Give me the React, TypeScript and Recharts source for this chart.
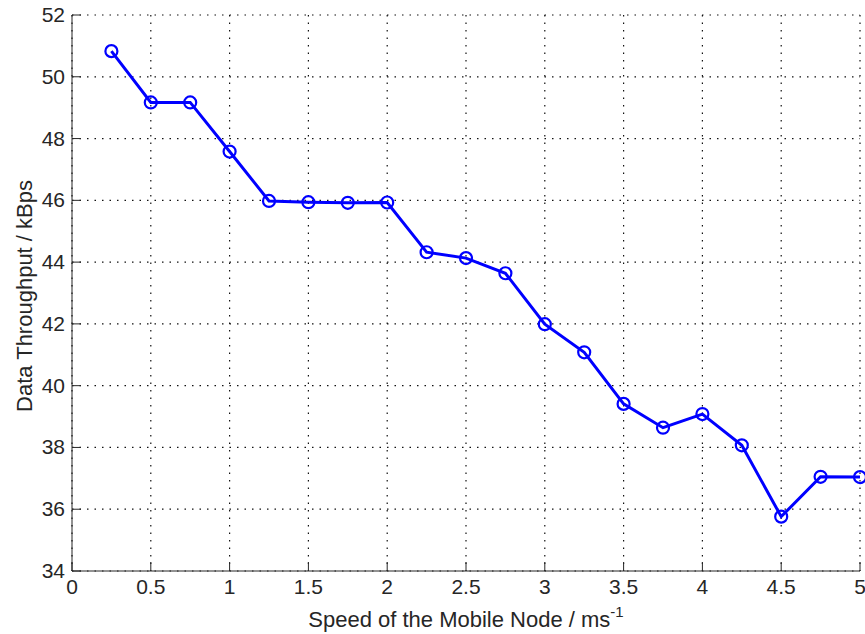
import React from "react";
import {
  LineChart,
  Line,
  XAxis,
  YAxis,
  CartesianGrid,
} from "recharts";

const speeds = [
  0.25, 0.5, 0.75, 1, 1.25, 1.5, 1.75, 2, 2.25, 2.5, 2.75, 3, 3.25, 3.5, 3.75,
  4, 4.25, 4.5, 4.75, 5,
];
const throughput = [
  50.83, 49.17, 49.17, 47.58, 45.98, 45.94, 45.92, 45.93, 44.32, 44.13, 43.64,
  41.99, 41.08, 39.41, 38.64, 39.08, 38.07, 35.76, 37.05, 37.04,
];
const xTicks = [0, 0.5, 1, 1.5, 2, 2.5, 3, 3.5, 4, 4.5, 5];
const yTicks = [34, 36, 38, 40, 42, 44, 46, 48, 50, 52];

const data = speeds.map((s, i) => ({ speed: s, value: throughput[i] }));

const FONT = "'Liberation Sans', Arial, Helvetica, sans-serif";
const INK = "#262626";
const BLUE = "#0000ff";
const TICK_LEN = 9;

function BottomTick({ x, y, payload }: any) {
  return (
    <g>
      <line x1={x} x2={x} y1={y} y2={y - TICK_LEN} stroke={INK} />
      <text
        x={x}
        y={y + 23}
        textAnchor="middle"
        fontSize={21}
        fontFamily={FONT}
        fill={INK}
      >
        {String(payload.value)}
      </text>
    </g>
  );
}

function TopTick({ x, y }: any) {
  return <line x1={x} x2={x} y1={y} y2={y + TICK_LEN} stroke={INK} />;
}

function LeftTick({ x, y, payload }: any) {
  return (
    <g>
      <line x1={x} x2={x + TICK_LEN} y1={y} y2={y} stroke={INK} />
      <text
        x={x - 7}
        y={y + 7}
        textAnchor="end"
        fontSize={21}
        fontFamily={FONT}
        fill={INK}
      >
        {String(payload.value)}
      </text>
    </g>
  );
}

function RightTick({ x, y }: any) {
  return <line x1={x} x2={x - TICK_LEN} y1={y} y2={y} stroke={INK} />;
}

function XTitle({ viewBox }: any) {
  const cx = viewBox.x + viewBox.width / 2;
  return (
    <text
      x={cx}
      y={viewBox.y + 56}
      textAnchor="middle"
      fontSize={22}
      fontFamily={FONT}
      fill={INK}
    >
      Speed of the Mobile Node / ms
      <tspan dy={-10} fontSize={15}>
        -1
      </tspan>
    </text>
  );
}

function YTitle({ viewBox }: any) {
  const cy = viewBox.y + viewBox.height / 2 + 3;
  const bx = 32;
  return (
    <text
      x={bx}
      y={cy}
      transform={`rotate(-90, ${bx}, ${cy})`}
      textAnchor="middle"
      fontSize={22}
      fontFamily={FONT}
      fill={INK}
    >
      Data Throughput / kBps
    </text>
  );
}

export default function App() {
  return (
    <div style={{ position: "absolute", left: 0, top: 0, background: "#fff" }}>
      <LineChart
        width={865}
        height={634}
        data={data}
        margin={{ top: 15, right: 5, left: 0, bottom: 0 }}
      >
        <CartesianGrid
          stroke="#111"
          strokeWidth={1.2}
          strokeDasharray="1.5 6"
          xAxisId="b"
          yAxisId="l"
        />
        <XAxis
          xAxisId="b"
          dataKey="speed"
          type="number"
          domain={[0, 5]}
          ticks={xTicks}
          interval={0}
          height={63}
          tickSize={0}
          tickMargin={0}
          tickLine={false}
          axisLine={{ stroke: INK }}
          tick={<BottomTick />}
          label={<XTitle />}
        />
        <XAxis
          xAxisId="t"
          orientation="top"
          dataKey="speed"
          type="number"
          domain={[0, 5]}
          ticks={xTicks}
          interval={0}
          height={0}
          tickSize={0}
          tickMargin={0}
          tickLine={false}
          axisLine={{ stroke: INK }}
          tick={<TopTick />}
        />
        <YAxis
          yAxisId="l"
          type="number"
          domain={[34, 52]}
          ticks={yTicks}
          interval={0}
          width={72}
          tickSize={0}
          tickMargin={0}
          tickLine={false}
          axisLine={{ stroke: INK }}
          tick={<LeftTick />}
          label={<YTitle />}
        />
        <YAxis
          yAxisId="r"
          orientation="right"
          type="number"
          domain={[34, 52]}
          ticks={yTicks}
          interval={0}
          width={0}
          tickSize={0}
          tickMargin={0}
          tickLine={false}
          axisLine={{ stroke: INK }}
          tick={<RightTick />}
        />
        <Line
          xAxisId="b"
          yAxisId="l"
          type="linear"
          dataKey="value"
          stroke={BLUE}
          strokeWidth={3}
          dot={{ r: 6, stroke: BLUE, strokeWidth: 2.2, fill: "none" }}
          activeDot={false}
          isAnimationActive={false}
        />
      </LineChart>
    </div>
  );
}
